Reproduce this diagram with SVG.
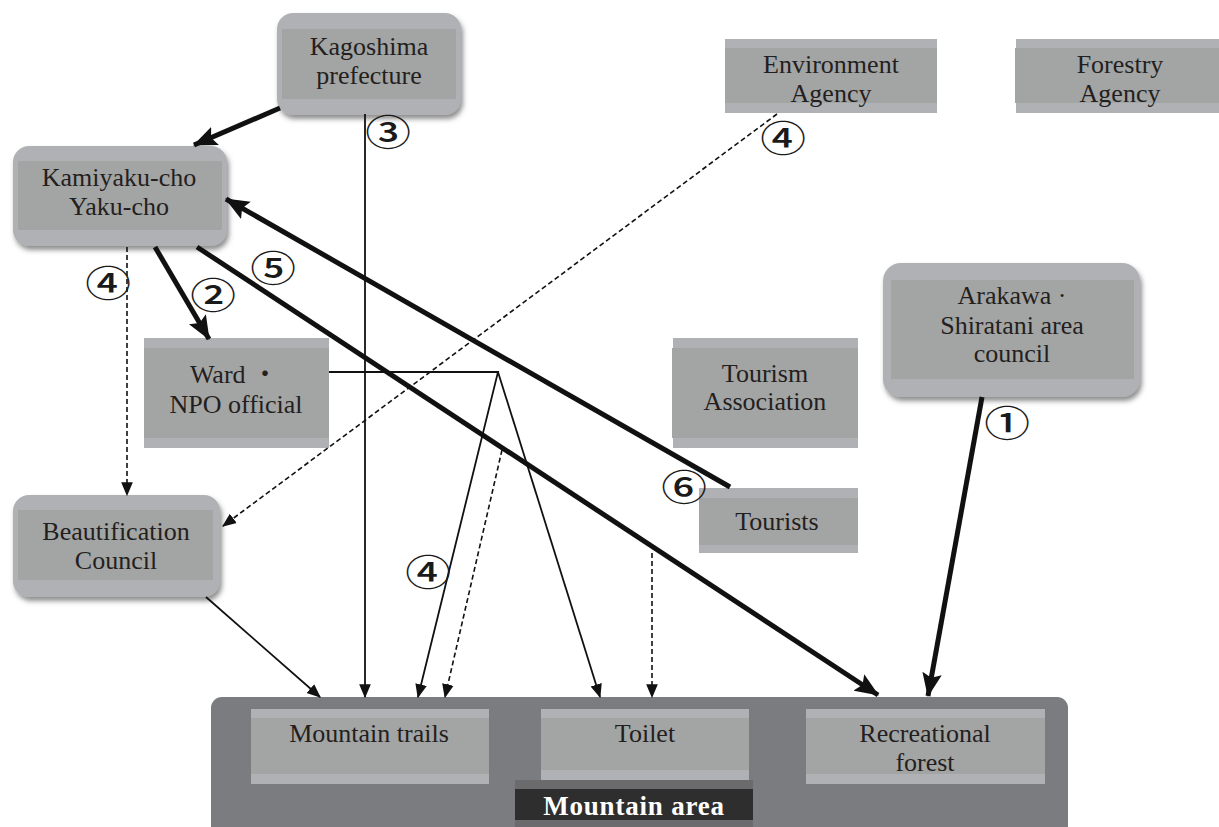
<svg xmlns="http://www.w3.org/2000/svg" width="1219" height="827" viewBox="0 0 1219 827">
<style>
.t{font-family:"Liberation Serif","Times New Roman",serif;font-size:26px;fill:#231f20;text-anchor:middle}
.outer{fill:#b0b1b5}
.inner{fill:#a3a4a4}
.num{font-family:"Noto Sans CJK JP","DejaVu Sans",sans-serif;font-size:36px;fill:#1a1a1a;text-anchor:middle;font-weight:500}
.thick{stroke:#111;stroke-width:5;fill:none}
.thin{stroke:#111;stroke-width:1.8;fill:none}
.dash{stroke:#111;stroke-width:1.6;fill:none;stroke-dasharray:5 3}
</style>
<defs>
<filter id="sh" x="-10%" y="-10%" width="125%" height="135%">
<feDropShadow dx="2" dy="4" stdDeviation="2.5" flood-color="#444" flood-opacity="0.6"/>
</filter>
<marker id="aThin" markerUnits="userSpaceOnUse" markerWidth="14" markerHeight="14" viewBox="0 0 12 12" refX="11" refY="6" orient="auto">
<path d="M0,1 L12,6 L0,11 Z" fill="#111"/>
</marker>
<marker id="aThick" markerUnits="userSpaceOnUse" markerWidth="24" markerHeight="20" viewBox="0 0 22 18" refX="21" refY="9" orient="auto">
<path d="M0,0 L22,9 L0,18 L4,9 Z" fill="#111"/>
</marker>
</defs>
<rect width="1219" height="827" fill="#fff"/>

<g id="mountain-area">
<rect x="211" y="697" width="857" height="140" rx="11" fill="#7b7c80"/>
<g id="mountain-trails">
<rect x="251" y="709" width="238" height="75" class="outer"/>
<rect x="251" y="718" width="238" height="56" class="inner"/>
<text class="t" x="369" y="742">Mountain trails</text>
</g>
<g id="toilet">
<rect x="541" y="709" width="208" height="71" class="outer"/>
<rect x="541" y="718" width="208" height="52" class="inner"/>
<text class="t" x="645" y="742">Toilet</text>
</g>
<g id="recreational-forest">
<rect x="806" y="709" width="239" height="75" class="outer"/>
<rect x="806" y="718" width="239" height="56" class="inner"/>
<text class="t" x="925" y="742">Recreational</text>
<text class="t" x="925" y="771">forest</text>
</g>
<g id="mountain-area-label">
<rect x="515" y="780" width="238" height="50" fill="#6b6b6d"/>
<rect x="515" y="789" width="238" height="31" fill="#2e2e2e"/>
<text x="634" y="815" style="font-family:'Liberation Serif','Times New Roman',serif;font-size:27px;font-weight:bold;fill:#fff;text-anchor:middle;letter-spacing:0.8px">Mountain area</text>
</g>
</g>

<g id="kagoshima">
<rect x="277" y="13" width="184" height="102" rx="16" class="outer" filter="url(#sh)"/>
<rect x="282" y="29" width="174" height="70" class="inner"/>
<text class="t" x="369" y="55">Kagoshima</text>
<text class="t" x="369" y="84">prefecture</text>
</g>

<g id="kamiyaku">
<rect x="13" y="146" width="214" height="100" rx="16" class="outer" filter="url(#sh)"/>
<rect x="18" y="161" width="204" height="69" class="inner"/>
<text class="t" x="119" y="186">Kamiyaku-cho</text>
<text class="t" x="119" y="215">Yaku-cho</text>
</g>

<g id="environment-agency">
<rect x="725" y="39" width="212" height="74" class="outer"/>
<rect x="725" y="48" width="212" height="55" class="inner"/>
<text class="t" x="831" y="73">Environment</text>
<text class="t" x="831" y="102">Agency</text>
</g>

<g id="forestry-agency">
<rect x="1016" y="39" width="203" height="74" class="outer"/>
<rect x="1015" y="48" width="204" height="55" class="inner"/>
<text class="t" x="1120" y="73">Forestry</text>
<text class="t" x="1120" y="102">Agency</text>
</g>

<g id="arakawa">
<rect x="883" y="263" width="257" height="134" rx="18" class="outer" filter="url(#sh)"/>
<rect x="891" y="280" width="243" height="99" class="inner"/>
<text class="t" x="1012" y="304">Arakawa ·</text>
<text class="t" x="1012" y="334">Shiratani area</text>
<text class="t" x="1012" y="362">council</text>
</g>

<g id="ward">
<rect x="144" y="338" width="185" height="110" class="outer"/>
<rect x="144" y="348" width="185" height="90" class="inner"/>
<text class="t" x="234" y="383">Ward <tspan style="font-family:'Noto Sans CJK JP',sans-serif">・</tspan></text>
<text class="t" x="236" y="413">NPO official</text>
</g>

<g id="tourism-association">
<rect x="673" y="338" width="185" height="110" class="outer"/>
<rect x="672" y="348" width="186" height="90" class="inner"/>
<text class="t" x="765" y="382">Tourism</text>
<text class="t" x="765" y="410">Association</text>
</g>

<g id="tourists">
<rect x="699" y="488" width="159" height="65" class="outer"/>
<rect x="699" y="498" width="159" height="47" class="inner"/>
<text class="t" x="777" y="530">Tourists</text>
</g>

<g id="beautification">
<rect x="13" y="495" width="207" height="102" rx="16" class="outer" filter="url(#sh)"/>
<rect x="18" y="510" width="195" height="70" class="inner"/>
<text class="t" x="116" y="540">Beautification</text>
<text class="t" x="116" y="569">Council</text>
</g>

<g id="connectors">
<line class="thick" x1="280" y1="108" x2="194" y2="145" marker-end="url(#aThick)"/>
<line class="thin" x1="365" y1="114" x2="365" y2="697" marker-end="url(#aThin)"/>
<line class="dash" x1="777" y1="114" x2="223" y2="526" marker-end="url(#aThin)"/>
<line class="thick" x1="155" y1="247" x2="209" y2="339" marker-end="url(#aThick)"/>
<line class="thick" x1="197" y1="247" x2="878" y2="695" marker-end="url(#aThick)"/>
<line class="thick" x1="730" y1="487" x2="226" y2="199" marker-end="url(#aThick)"/>
<line class="dash" x1="127" y1="247" x2="127" y2="495" marker-end="url(#aThin)"/>
<polyline class="thin" points="329,372 498,372 418,697" marker-end="url(#aThin)"/>
<line class="thin" x1="498" y1="372" x2="600" y2="697" marker-end="url(#aThin)"/>
<line class="dash" x1="502" y1="450" x2="445" y2="697" marker-end="url(#aThin)"/>
<line class="dash" x1="652" y1="553" x2="652" y2="697" marker-end="url(#aThin)"/>
<line class="thin" x1="206" y1="597" x2="320" y2="697" marker-end="url(#aThin)"/>
<line class="thick" x1="982" y1="397" x2="928" y2="696" marker-end="url(#aThick)"/>
</g>

<g id="labels">
<text class="num" transform="translate(388,146) scale(1.27,1)">③</text>
<text class="num" transform="translate(783,152) scale(1.27,1)">④</text>
<text class="num" transform="translate(108,297) scale(1.27,1)">④</text>
<text class="num" transform="translate(213,309) scale(1.27,1)">②</text>
<text class="num" transform="translate(273,282) scale(1.27,1)">⑤</text>
<text class="num" transform="translate(428,586) scale(1.27,1)">④</text>
<text class="num" transform="translate(684,501) scale(1.27,1)">⑥</text>
<text class="num" transform="translate(1007,437) scale(1.27,1)">①</text>
</g>
</svg>
